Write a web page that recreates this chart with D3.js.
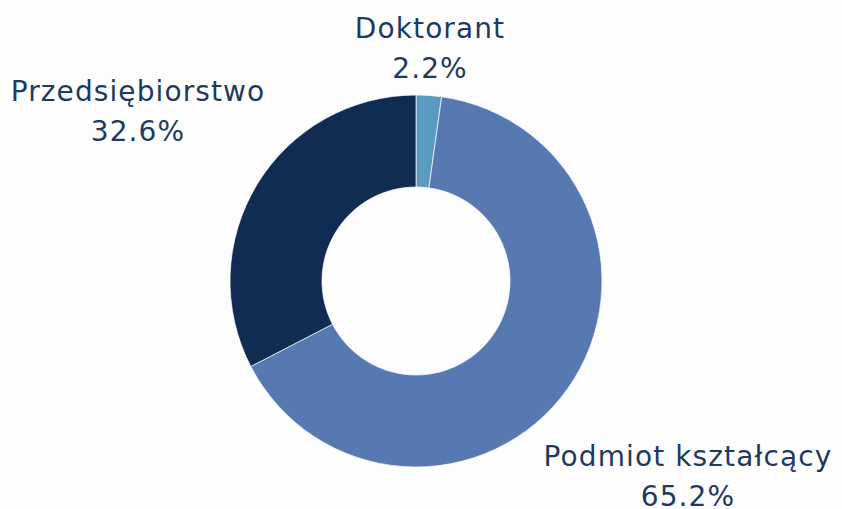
<!DOCTYPE html>
<html>
<head>
<meta charset="utf-8">
<script src="https://cdn.jsdelivr.net/npm/d3@7"></script>
<style>
  html, body { margin: 0; padding: 0; background: #fdfdfd; }
  svg { display: block; }
  .lbl { font-family: "DejaVu Sans", sans-serif; font-size: 28px; letter-spacing: 1.1px; fill: #1f3a5f; }
</style>
</head>
<body>
<svg id="chart" width="842" height="509"></svg>
<script>
const categories = ['Doktorant', 'Podmiot kształcący', 'Przedsiębiorstwo'];
const values = [2.2, 65.2, 32.6];
const colors = ['#5a9bc0', '#5779b1', '#112c52'];

// first-line baseline of each label, relative to donut centre
const labelOffset = {
  'Doktorant': [14, -243],
  'Podmiot kształcący': [272, 185],
  'Przedsiębiorstwo': [-278, -180]
};
const lineGap = 40;

const width = 842, height = 509;
const cx = 416, cy = 281;
const outerR = 186, innerR = 94;

const svg = d3.select('#chart');
const g = svg.append('g').attr('transform', `translate(${cx},${cy})`);

const data = categories.map((name, i) => ({ name, value: values[i], color: colors[i] }));

const pie = d3.pie().value(d => d.value).sort(null);
const arc = d3.arc().innerRadius(innerR).outerRadius(outerR);

g.selectAll('path')
  .data(pie(data))
  .join('path')
  .attr('d', arc)
  .attr('fill', d => d.data.color)
  .attr('stroke', '#fdfdfd')
  .attr('stroke-width', 0.7);

const fmt = d3.format('.1f');
const labels = g.selectAll('text.lbl')
  .data(data)
  .join('text')
  .attr('class', 'lbl')
  .attr('text-anchor', 'middle')
  .attr('transform', d => `translate(${labelOffset[d.name][0]},${labelOffset[d.name][1]})`);

labels.append('tspan').attr('x', 0).attr('y', 0).text(d => d.name);
labels.append('tspan').attr('x', 0).attr('y', lineGap).text(d => fmt(d.value) + '%');
</script>
</body>
</html>
